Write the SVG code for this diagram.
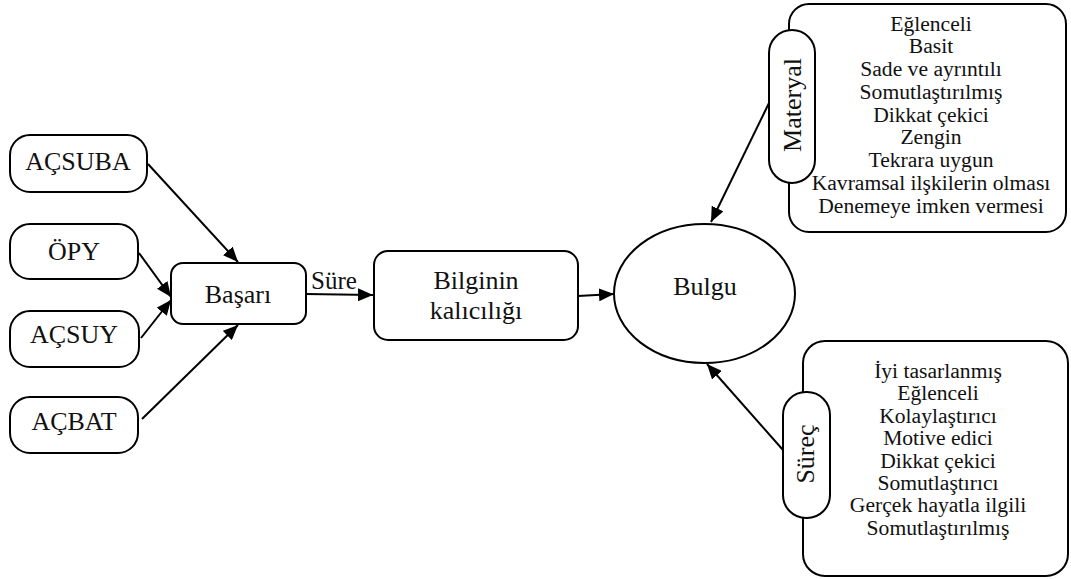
<svg xmlns="http://www.w3.org/2000/svg" width="1071" height="579" viewBox="0 0 1071 579">
<style>
.box{fill:#fff;stroke:#000;stroke-width:2}
.t{font-family:"Liberation Serif","Times New Roman",serif;font-size:26px;fill:#111;text-anchor:middle}
.l{font-family:"Liberation Serif","Times New Roman",serif;font-size:21.6px;fill:#111;text-anchor:middle}
.c{stroke:#000;stroke-width:2;fill:none;marker-end:url(#ah)}
</style>
<defs>
<marker id="ah" markerUnits="userSpaceOnUse" markerWidth="15" markerHeight="13" refX="15" refY="6.5" orient="auto">
<path d="M0,0 L15,6.5 L0,13 z" fill="#000"/>
</marker>
</defs>
<rect width="1071" height="579" fill="#fff"/>
<g id="connectors">
<line class="c" x1="148" y1="164" x2="238" y2="262"/>
<line class="c" x1="139" y1="253" x2="171" y2="297"/>
<line class="c" x1="141" y1="338" x2="171" y2="300"/>
<line class="c" x1="142" y1="419" x2="238" y2="325"/>
<line class="c" x1="306" y1="294" x2="373" y2="295"/>
<line class="c" x1="578" y1="296" x2="614" y2="294"/>
<line class="c" x1="769" y1="103" x2="711" y2="222"/>
<line class="c" x1="783" y1="450" x2="707" y2="364"/>
<text x="334" y="289" class="t" style="font-size:25px">Süre</text>
</g>
<g id="acsuba"><rect class="box" x="10" y="135" width="137" height="57" rx="20"/><text class="t" x="78" y="170">AÇSUBA</text></g>
<g id="opy"><rect class="box" x="10" y="224" width="128" height="55" rx="20"/><text class="t" x="74" y="260">ÖPY</text></g>
<g id="acsuy"><rect class="box" x="10" y="311" width="129" height="56" rx="20"/><text class="t" x="74" y="343">AÇSUY</text></g>
<g id="acbat"><rect class="box" x="10" y="397" width="128" height="56" rx="20"/><text class="t" x="74" y="430">AÇBAT</text></g>
<g id="basari"><rect class="box" x="171" y="263" width="135" height="61" rx="12"/><text class="t" x="238" y="303">Başarı</text></g>
<g id="bilginin"><rect class="box" x="374" y="251" width="204" height="89" rx="14"/><text class="t" x="476" y="289">Bilginin</text><text class="t" x="476" y="319">kalıcılığı</text></g>
<g id="bulgu"><ellipse class="box" cx="704.5" cy="293.5" rx="90.5" ry="69.5"/><text class="t" x="705" y="295">Bulgu</text></g>
<g id="materyal">
<rect class="box" x="789" y="4" width="277" height="228" rx="20"/>
<rect class="box" x="769" y="30" width="46" height="153" rx="23"/>
<text class="t" transform="translate(801,105) rotate(-90)">Materyal</text>
<text class="l" x="931" y="30.5">Eğlenceli</text>
<text class="l" x="931" y="53.2">Basit</text>
<text class="l" x="931" y="76">Sade ve ayrıntılı</text>
<text class="l" x="931" y="98.7">Somutlaştırılmış</text>
<text class="l" x="931" y="121.5">Dikkat çekici</text>
<text class="l" x="931" y="144.2">Zengin</text>
<text class="l" x="931" y="167">Tekrara uygun</text>
<text class="l" x="931" y="189.7">Kavramsal ilşkilerin olması</text>
<text class="l" x="931" y="212.5">Denemeye imken vermesi</text>
</g>
<g id="surec">
<rect class="box" x="803" y="341" width="265" height="235" rx="22"/>
<rect class="box" x="783" y="392" width="47" height="126" rx="23"/>
<text class="t" transform="translate(814,454) rotate(-90)">Süreç</text>
<text class="l" x="938" y="378">İyi tasarlanmış</text>
<text class="l" x="938" y="400.4">Eğlenceli</text>
<text class="l" x="938" y="422.8">Kolaylaştırıcı</text>
<text class="l" x="938" y="445.2">Motive edici</text>
<text class="l" x="938" y="467.6">Dikkat çekici</text>
<text class="l" x="938" y="490">Somutlaştırıcı</text>
<text class="l" x="938" y="512.4">Gerçek hayatla ilgili</text>
<text class="l" x="938" y="534.8">Somutlaştırılmış</text>
</g>
</svg>
